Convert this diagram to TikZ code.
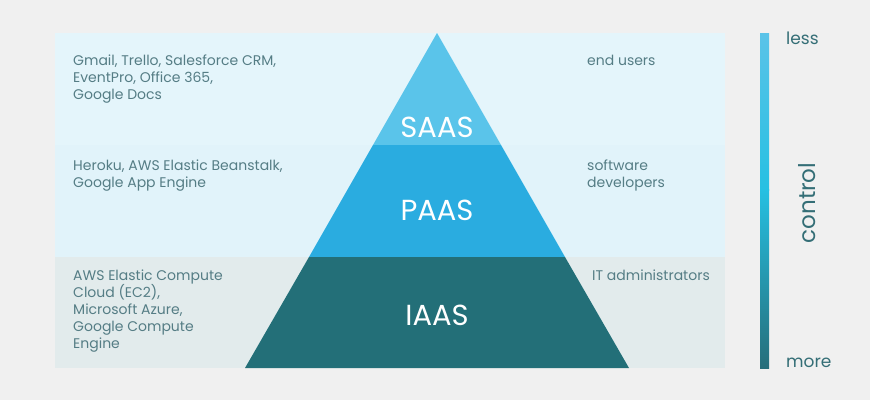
\documentclass[tikz,border=0pt]{standalone}
\usepackage{fontspec}
\setmainfont{Poppins}
\usetikzlibrary{positioning}
\definecolor{bgc}{RGB}{240,240,240}
\definecolor{bandtop}{RGB}{228,245,251}
\definecolor{bandmid}{RGB}{225,243,250}
\definecolor{bandlow}{RGB}{226,235,236}
\definecolor{saasc}{RGB}{90,196,234}
\definecolor{paasc}{RGB}{42,172,224}
\definecolor{iaasc}{RGB}{35,111,120}
\definecolor{notec}{RGB}{85,125,133}
\definecolor{ctrlc}{RGB}{52,110,118}
\definecolor{bartop}{RGB}{90,195,232}
\definecolor{barmid}{RGB}{38,192,226}
\definecolor{barlow}{RGB}{38,110,122}
\tikzset{
	layer/.style={text=white,font=\fontsize{29}{34}\selectfont,inner sep=0pt},
	note/.style={text=notec,font=\fontsize{14}{17}\selectfont,align=left,inner sep=0pt,anchor=north west},
	scalelabel/.style={text=ctrlc,font=\fontsize{17}{20}\selectfont,inner sep=0pt,anchor=west}
}

\begin{document}
\begin{tikzpicture}[x=1pt,y=-1pt]
            \fill[bgc] (0,0) rectangle (870,400);
            \fill[bandtop] (55,33) rectangle (725,145);
            \fill[bandmid] (55,145) rectangle (725,257);
            \fill[bandlow] (55,257) rectangle (725,368);
            \coordinate (apex) at (437,33);
            \coordinate (sl) at (373,145);
            \coordinate (sr) at (501,145);
            \coordinate (pl) at (309,257);
            \coordinate (pr) at (565,257);
            \coordinate (il) at (245,368);
            \coordinate (ir) at (629,368);
            \fill[saasc] (apex) -- (sr) -- (sl) -- cycle;
            \fill[paasc] (sl) -- (sr) -- (pr) -- (pl) -- cycle;
            \fill[iaasc] (pl) -- (pr) -- (ir) -- (il) -- cycle;
            \node[layer] (saas) at (437,127) {SAAS};
            \node[layer] (paas) at (437,210) {PAAS};
            \node[layer] (iaas) at (437,315) {IAAS};
            \node[note] (saasapps) at (73,55) {Gmail, Trello, Salesforce CRM,\\EventPro, Office 365,\\Google Docs};
            \node[note] (paasapps) at (73,160) {Heroku, AWS Elastic Beanstalk,\\Google App Engine};
            \node[note] (iaasapps) at (73,269.5) {AWS Elastic Compute\\Cloud (EC2),\\Microsoft Azure,\\Google Compute\\Engine};
            \node[note] (saasusers) at (587,55) {end users};
            \node[note] (paasusers) at (587,160) {software\\developers};
            \node[note] (iaasusers) at (592,269.5) {IT administrators};
            \shade[top color=bartop,bottom color=barmid] (760,33) rectangle (769,190);
            \shade[top color=barmid,bottom color=barlow] (760,189.5) rectangle (769,368);
            \node[scalelabel] (less) at (786,38) {less};
            \node[scalelabel] (more) at (786,363) {more};
            \node[text=ctrlc,font=\fontsize{23}{28}\selectfont,rotate=90,inner sep=0pt] (control) at (807,203) {control};
        \end{tikzpicture}
\end{document}
